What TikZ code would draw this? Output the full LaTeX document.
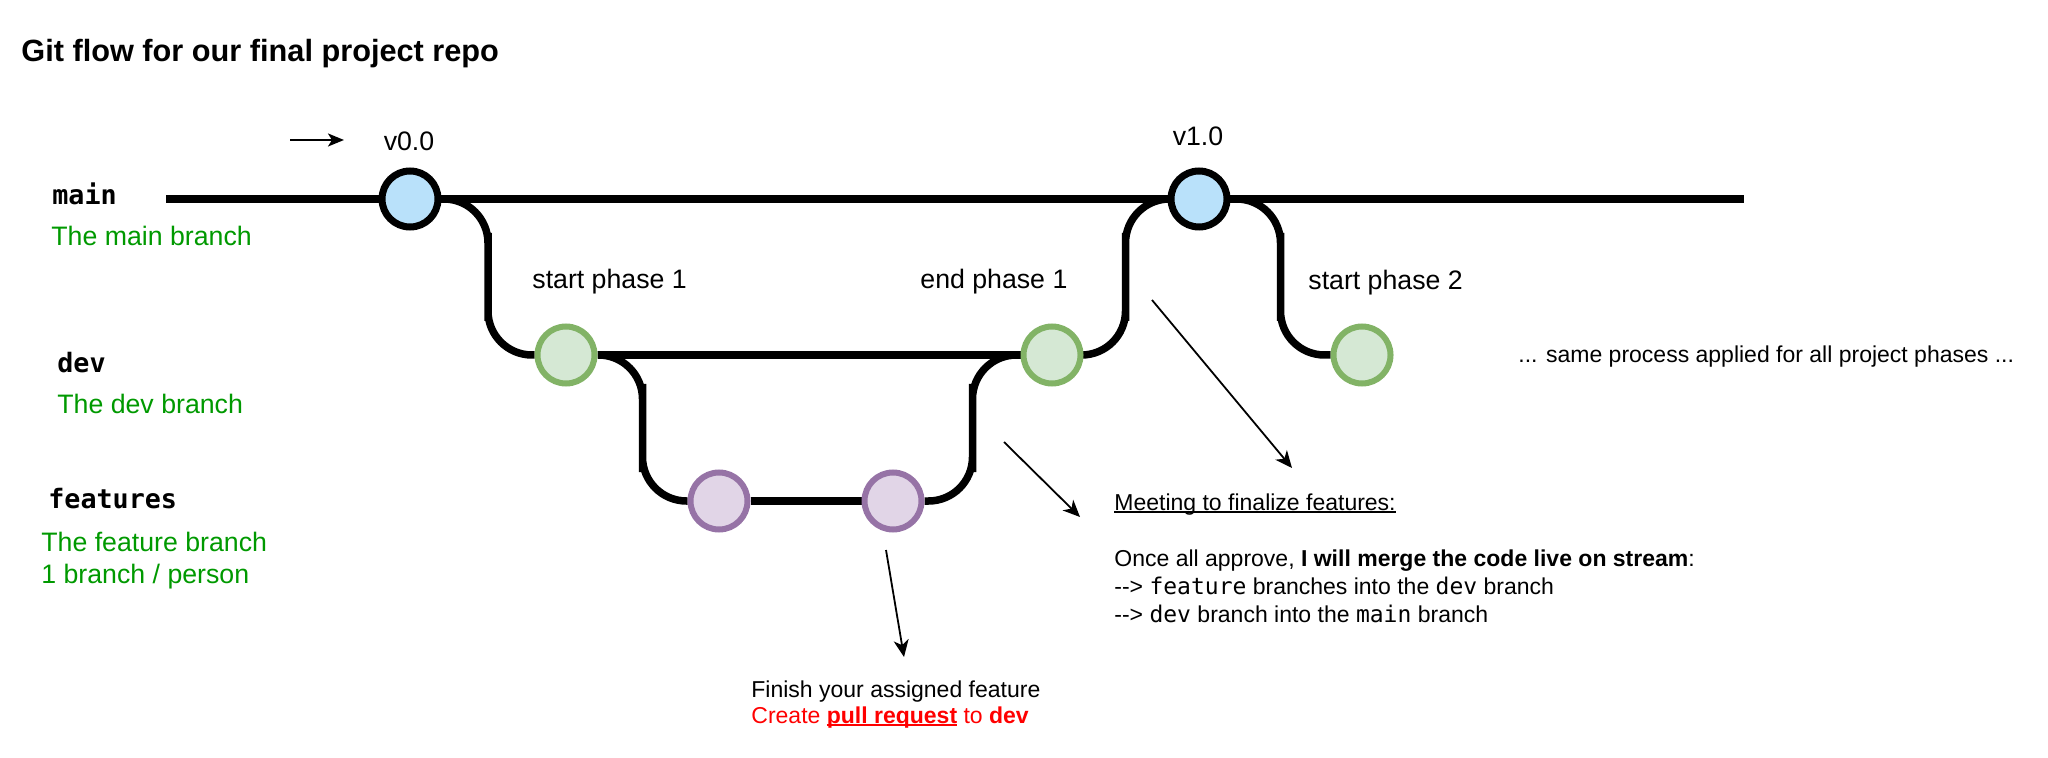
\documentclass[tikz,border=0pt]{standalone}
\usepackage{fontspec}
\setmainfont{Liberation Sans}
\setmonofont{DejaVu Sans Mono}
\usepackage{xcolor}
\usetikzlibrary{arrows.meta,calc,positioning,backgrounds}
\definecolor{mainfill}{RGB}{185,225,250}
\definecolor{devfill}{RGB}{213,232,212}
\definecolor{devline}{RGB}{130,179,102}
\definecolor{featfill}{RGB}{225,213,231}
\definecolor{featline}{RGB}{150,115,166}
\definecolor{descgreen}{RGB}{0,153,0}
\definecolor{prred}{RGB}{255,0,0}
\newcommand{\bigtxt}{\fontsize{13.35}{16}\selectfont}
\newcommand{\smalltxt}{\fontsize{11.5}{14}\selectfont}
\newsavebox{\ulbox}
\newcommand{\ulinetxt}[1]{\sbox{\ulbox}{#1}\rlap{\usebox{\ulbox}}\rule[-1.3pt]{\wd\ulbox}{0.6pt}}

\begin{document}
\begin{tikzpicture}[
    x=0.5pt, y=-0.5pt,
    commit/.style={circle, inner sep=0},
    maincommit/.style={commit, line width=3.5pt, minimum size=28pt, draw=black, fill=mainfill},
    devcommit/.style={commit, line width=3pt, minimum size=28.5pt, draw=devline, fill=devfill},
    featcommit/.style={commit, line width=3pt, minimum size=28.5pt, draw=featline, fill=featfill},
    branch/.style={line width=3.75pt, rounded corners=22pt},
    txt/.style={inner sep=0, anchor=base west, font=\bigtxt},
    note/.style={inner sep=0, anchor=base west, font=\smalltxt},
    branchname/.style={txt, font=\bigtxt\ttfamily\bfseries},
    desc/.style={txt, text=descgreen},
    pointer/.style={line width=0.9pt, -{Stealth[length=8.5pt,width=7.5pt,inset=2.5pt]}},
    tagpointer/.style={line width=1pt, -{Stealth[length=8pt,width=6.5pt,inset=2pt]}}]
\useasboundingbox (0,0) rectangle (2048,758);

\node[txt, font=\fontsize{15.35}{18}\selectfont\bfseries] (title) at (21,62) {Git flow for our final project repo};

\node[branchname] (mainname) at (52,205) {main};
\node[desc] (maindesc) at (51,246) {The main branch};
\node[branchname] (devname) at (57,373) {dev};
\node[desc] (devdesc) at (57,414) {The dev branch};
\node[branchname] (featname) at (48,508) {features};
\node[desc] (featdesc) at (41,551) {The feature branch};
\node[desc] (featdescb) at (41,583) {1 branch / person};

\node[maincommit] (v00) at (410,199) {};
\node[maincommit] (v10) at (1199,199) {};
\node[devcommit] (dev1) at (566,355) {};
\node[devcommit] (dev2) at (1052,355) {};
\node[devcommit] (dev3) at (1362,355) {};
\node[featcommit] (feat1) at (719,501) {};
\node[featcommit] (feat2) at (893,501) {};
\coordinate (mainstart) at (166,199);
\coordinate (mainend) at (1744,199);

\begin{scope}[on background layer]
\draw[branch] (mainstart) -- (mainend);
\draw[branch] (dev1) -- (dev2);
\draw[branch] (feat1) -- (feat2);
\draw[branch] (v00.east) -| ($(v00.east)!.5!(dev1.west)$) |- (dev1.west);
\draw[branch] (dev1.east) -| ($(dev1.east)!.5!(feat1.west)$) |- (feat1.west);
\draw[branch] (feat2.east) -| ($(feat2.east)!.5!(dev2.west)$) |- (dev2.west);
\draw[branch] (dev2.east) -| ($(dev2.east)!.5!(v10.west)$) |- (v10.west);
\draw[branch] (v10.east) -| ($(v10.east)!.5!(dev3.west)$) |- (dev3.west);
\end{scope}

\node[txt, anchor=base] (v00tag) at (409,151) {v0.0};
\node[txt, anchor=base] (v10tag) at (1198,146) {v1.0};
\node[txt] (startone) at (532,289) {start phase 1};
\node[txt] (endone) at (920,289) {end phase 1};
\node[txt] (starttwo) at (1308,290) {start phase 2};
\node[note] (sameproc) at (1518,363) {... same process applied for all project phases ...};

\node[note] (meeting) at (1114,510) {\ulinetxt{Meeting to finalize features:}};
\node[note] (approve) at (1114,566) {Once all approve, \textbf{I will merge the code live on stream}:};
\node[note] (mergefeat) at (1114,594) {-{}-> \texttt{feature} branches into the \texttt{dev} branch};
\node[note] (mergedev) at (1114,622) {-{}-> \texttt{dev} branch into the \texttt{main} branch};

\node[note] (finish) at (751,697) {Finish your assigned feature};
\node[note, text=prred] (pullreq) at (751,723) {Create \ulinetxt{\textbf{pull request}} to \textbf{dev}};

\coordinate (tagtail) at (290,140);
\coordinate (taghead) at (344,140);
\coordinate (meettail) at (1152,300);
\coordinate (meethead) at (1292,468);
\coordinate (devtail) at (1004,442);
\coordinate (devhead) at (1080,517);
\coordinate (prtail) at (886,550);
\coordinate (prhead) at (904,657);
\draw[tagpointer] (tagtail) -- (taghead);
\draw[pointer] (meettail) -- (meethead);
\draw[pointer] (devtail) -- (devhead);
\draw[pointer] (prtail) -- (prhead);

\end{tikzpicture}
\end{document}
